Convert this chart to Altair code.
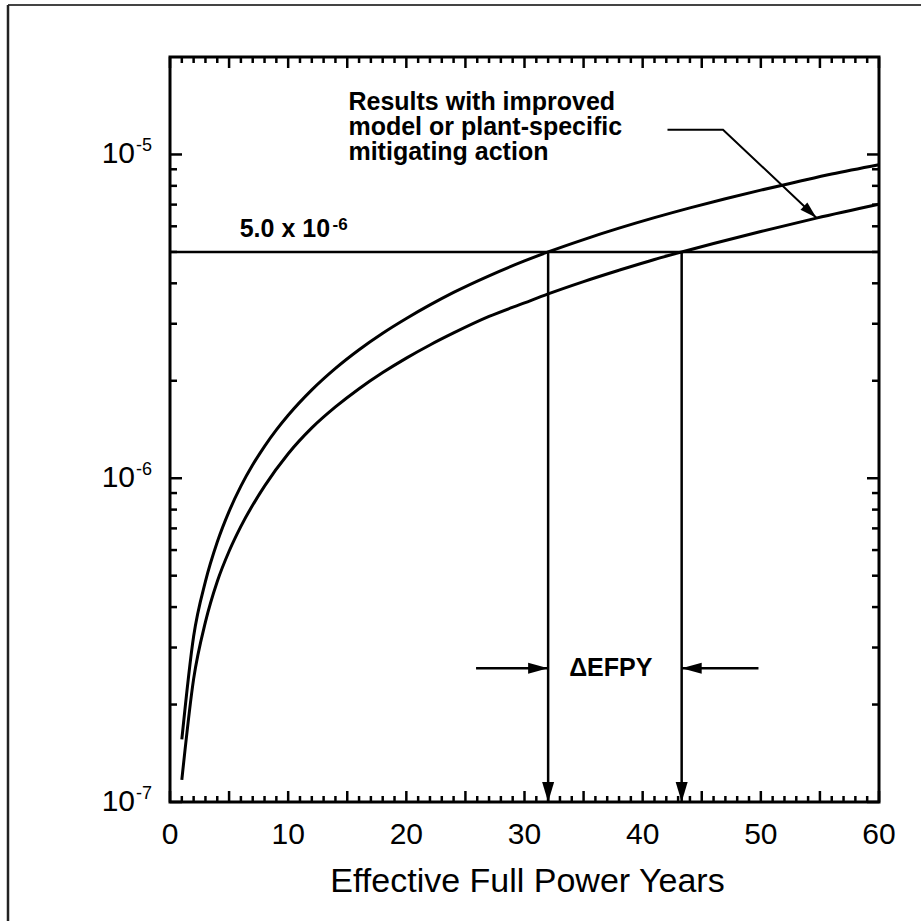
import altair as alt
import pandas as pd

# ---- data ----
upper_x = [1, 2, 3, 4, 5, 6, 7, 8, 9, 10, 12, 14, 16, 18, 20, 22, 24, 27, 30, 32,
           35, 38, 41, 44, 47, 50, 53, 56, 60]
upper_y = [1.56e-7, 3.25e-7, 4.8e-7, 6.35e-7, 7.9e-7, 9.45e-7, 1.1e-6, 1.255e-6, 1.41e-6, 1.565e-6,
           1.875e-6, 2.185e-6, 2.495e-6, 2.805e-6, 3.115e-6, 3.43e-6, 3.75e-6, 4.22e-6, 4.69e-6, 5.0e-6,
           5.46e-6, 5.92e-6, 6.38e-6, 6.84e-6, 7.3e-6, 7.76e-6, 8.22e-6, 8.7e-6, 9.3e-6]
lower_x = [1, 2, 3, 4, 5, 6, 8, 10, 12, 14, 16, 18, 20, 22, 24, 27, 30, 32, 35, 38,
           41, 43.3, 46, 50, 54.7, 60]
lower_y = [1.17e-7, 2.4e-7, 3.6e-7, 4.8e-7, 5.95e-7, 7.1e-7, 9.45e-7, 1.19e-6, 1.43e-6, 1.66e-6,
           1.89e-6, 2.12e-6, 2.35e-6, 2.58e-6, 2.81e-6, 3.16e-6, 3.48e-6, 3.71e-6, 4.05e-6, 4.39e-6,
           4.74e-6, 5.0e-6, 5.31e-6, 5.78e-6, 6.36e-6, 7.02e-6]

threshold = 5.0e-6
cross_x = [32.0, 43.3]           # EFPY where each curve reaches the threshold
y_min, y_max = 1e-7, 2e-5
x_min, x_max = 0, 60

x_labels = [0, 10, 20, 30, 40, 50, 60]
x_title = "Effective Full Power Years"
x_major_ticks = [0, 5, 10, 15, 20, 25, 30, 35, 40, 45, 50, 55, 60]
x_minor_ticks = [v for v in range(1, 60) if v % 5 != 0]
y_major_ticks = [1e-7, 1e-6, 1e-5]
y_major_exp = ["-7", "-6", "-5"]
y_minor_ticks = [round(m * 10.0 ** e, 14) for e in (-7, -6) for m in range(2, 10)]

# annotations
thr_label_x, thr_label_y = 5.9, 5.55e-6
thr_sup_x, thr_sup_y = 13.75, 5.83e-6
note_x = 15.1
note_lines = ["Results with improved", "model or plant-specific", "mitigating action"]
note_y = [1.368e-5, 1.1445e-5, 9.58e-6]
leader_x = [42.1, 46.8, 54.7]
leader_y = [1.192e-5, 1.192e-5, 6.38e-6]
defpy_x, defpy_y = 37.3, 2.45e-7
harrow_y = 2.59e-7
harrow_left_x = [25.9, 32.0]
harrow_right_x = [49.8, 43.3]

W, H = 709, 745
FONT = "Liberation Sans"

xs = alt.Scale(domain=[x_min, x_max], nice=False, zero=False)
ys = alt.Scale(type="log", domain=[y_min, y_max], nice=False)

def X(field="x"):
    return alt.X(f"{field}:Q", scale=xs, axis=None)

def Y(field="y"):
    return alt.Y(f"{field}:Q", scale=ys, axis=None)

curves = pd.DataFrame(
    [{"x": a, "y": b, "s": "upper", "o": i} for i, (a, b) in enumerate(zip(upper_x, upper_y))]
    + [{"x": a, "y": b, "s": "lower", "o": i} for i, (a, b) in enumerate(zip(lower_x, lower_y))]
)

curve_layer = alt.Chart(curves).mark_line(color="black", strokeWidth=3, interpolate="monotone").encode(
    x=X("x"), y=Y("y"), detail="s:N", order="o:Q")

thr_df = pd.DataFrame({"x": [x_min], "x2": [x_max], "y": [threshold]})
thr_layer = alt.Chart(thr_df).mark_rule(color="black", strokeWidth=2.5).encode(
    x=X("x"), x2="x2:Q", y=Y("y"))

vert_df = pd.DataFrame({"x": cross_x, "y": [threshold] * 2, "y2": [y_min] * 2})
vert_layer = alt.Chart(vert_df).mark_rule(color="black", strokeWidth=2.5).encode(
    x=X("x"), y=Y("y"), y2="y2:Q")

down_head = alt.Chart(pd.DataFrame({"x": cross_x, "y": [y_min] * 2})).mark_point(
    shape="M0,0L-0.6,-2L0.6,-2Z", size=400, filled=True, color="black", opacity=1, strokeWidth=0
).encode(x=X("x"), y=Y("y"))

harrows = pd.DataFrame({
    "x": [harrow_left_x[0], harrow_right_x[0]],
    "x2": [harrow_left_x[1], harrow_right_x[1]],
    "y": [harrow_y, harrow_y],
})
harrow_layer = alt.Chart(harrows).mark_rule(color="black", strokeWidth=2.5).encode(
    x=X("x"), x2="x2:Q", y=Y("y"))
head_r = alt.Chart(pd.DataFrame({"x": [harrow_left_x[1]], "y": [harrow_y]})).mark_point(
    shape="M0,0L-2,-0.55L-2,0.55Z", size=400, filled=True, color="black", opacity=1, strokeWidth=0
).encode(x=X("x"), y=Y("y"))
head_l = alt.Chart(pd.DataFrame({"x": [harrow_right_x[1]], "y": [harrow_y]})).mark_point(
    shape="M0,0L2,-0.55L2,0.55Z", size=400, filled=True, color="black", opacity=1, strokeWidth=0
).encode(x=X("x"), y=Y("y"))

leader_df = pd.DataFrame({"x": leader_x, "y": leader_y, "o": [0, 1, 2]})
leader_layer = alt.Chart(leader_df).mark_line(color="black", strokeWidth=2).encode(
    x=X("x"), y=Y("y"), order="o:Q")
leader_head = alt.Chart(pd.DataFrame({"x": [leader_x[-1]], "y": [leader_y[-1]]})).mark_point(
    shape="M0,0L-0.5,-1.7L0.5,-1.7Z", size=400, filled=True, color="black", opacity=1,
    strokeWidth=0, angle=313
).encode(x=X("x"), y=Y("y"))

txt = dict(font=FONT, color="black", fontWeight="bold")
thr_text = alt.Chart(pd.DataFrame({"x": [thr_label_x], "y": [thr_label_y], "t": ["5.0 x 10"]})).mark_text(
    align="left", baseline="alphabetic", fontSize=25, **txt).encode(x=X("x"), y=Y("y"), text="t:N")
thr_sup = alt.Chart(pd.DataFrame({"x": [thr_sup_x], "y": [thr_sup_y], "t": ["-6"]})).mark_text(
    align="left", baseline="alphabetic", fontSize=17, **txt).encode(x=X("x"), y=Y("y"), text="t:N")
note = alt.Chart(pd.DataFrame({"x": [note_x] * 3, "y": note_y, "t": note_lines})).mark_text(
    align="left", baseline="alphabetic", fontSize=25, **txt
).encode(x=X("x"), y=Y("y"), text="t:N")
defpy = alt.Chart(pd.DataFrame({"x": [defpy_x], "y": [defpy_y], "t": ["ΔEFPY"]})).mark_text(
    align="center", baseline="alphabetic", fontSize=25, **txt).encode(x=X("x"), y=Y("y"), text="t:N")

# tick marks (inside the frame, on all four sides)
def xticks(vals, length):
    df = pd.DataFrame({"x": vals})
    b = alt.Chart(df).mark_rule(color="black", strokeWidth=2.5).encode(
        x=X("x"), y=alt.value(H), y2=alt.value(H - length))
    t = alt.Chart(df).mark_rule(color="black", strokeWidth=2.5).encode(
        x=X("x"), y=alt.value(0), y2=alt.value(length))
    return [b, t]

def yticks(vals, length):
    df = pd.DataFrame({"y": vals})
    l = alt.Chart(df).mark_rule(color="black", strokeWidth=2.5).encode(
        y=Y("y"), x=alt.value(0), x2=alt.value(length))
    r = alt.Chart(df).mark_rule(color="black", strokeWidth=2.5).encode(
        y=Y("y"), x=alt.value(W), x2=alt.value(W - length))
    return [l, r]

tick_layers = xticks(x_major_ticks, 11) + xticks(x_minor_ticks, 6) + \
    yticks(y_major_ticks, 12) + yticks(y_minor_ticks, 7)

# axis labels
xlab = alt.Chart(pd.DataFrame({"x": x_labels, "t": [str(v) for v in x_labels]})).mark_text(
    align="center", baseline="alphabetic", fontSize=30, font=FONT, color="black"
).encode(x=X("x"), y=alt.value(H + 42), text="t:N")
xtitle = alt.Chart(pd.DataFrame({"t": [x_title]})).mark_text(
    align="center", baseline="alphabetic", fontSize=34, font=FONT, color="black"
).encode(x=alt.value(W / 2 + 3), y=alt.value(H + 90), text="t:N")

ylab_df = pd.DataFrame({"y": y_major_ticks, "b": ["10"] * 3, "e": y_major_exp})
ylab = alt.Chart(ylab_df).mark_text(align="right", baseline="alphabetic", fontSize=30, dy=9,
                                    font=FONT, color="black").encode(
    y=Y("y"), x=alt.value(-35), text="b:N")
yexp = alt.Chart(ylab_df).mark_text(align="left", baseline="alphabetic", fontSize=18, dy=-3,
                                    font=FONT, color="black").encode(
    y=Y("y"), x=alt.value(-34), text="e:N")

# outer figure border (top and left edges visible in the reference)
border_top = alt.Chart(pd.DataFrame({"a": [0]})).mark_rule(color="#444", strokeWidth=2).encode(
    x=alt.value(-162), x2=alt.value(751), y=alt.value(-52))
border_left = alt.Chart(pd.DataFrame({"a": [0]})).mark_rule(color="#222", strokeWidth=2.5).encode(
    x=alt.value(-162), y=alt.value(-52), y2=alt.value(870))

chart = alt.layer(
    curve_layer, thr_layer, vert_layer, down_head, harrow_layer, head_r, head_l,
    leader_layer, leader_head, thr_text, thr_sup, note, defpy, xlab, xtitle, ylab, yexp,
    border_top, border_left, *tick_layers
).properties(
    width=W, height=H,
    autosize=alt.AutoSizeParams(type="none"),
    padding={"left": 170, "top": 57, "right": 42, "bottom": 119},
    background="white",
).configure_view(stroke="black", strokeWidth=3)

chart.save("out.html", embed_options={"renderer": "svg", "actions": False})
